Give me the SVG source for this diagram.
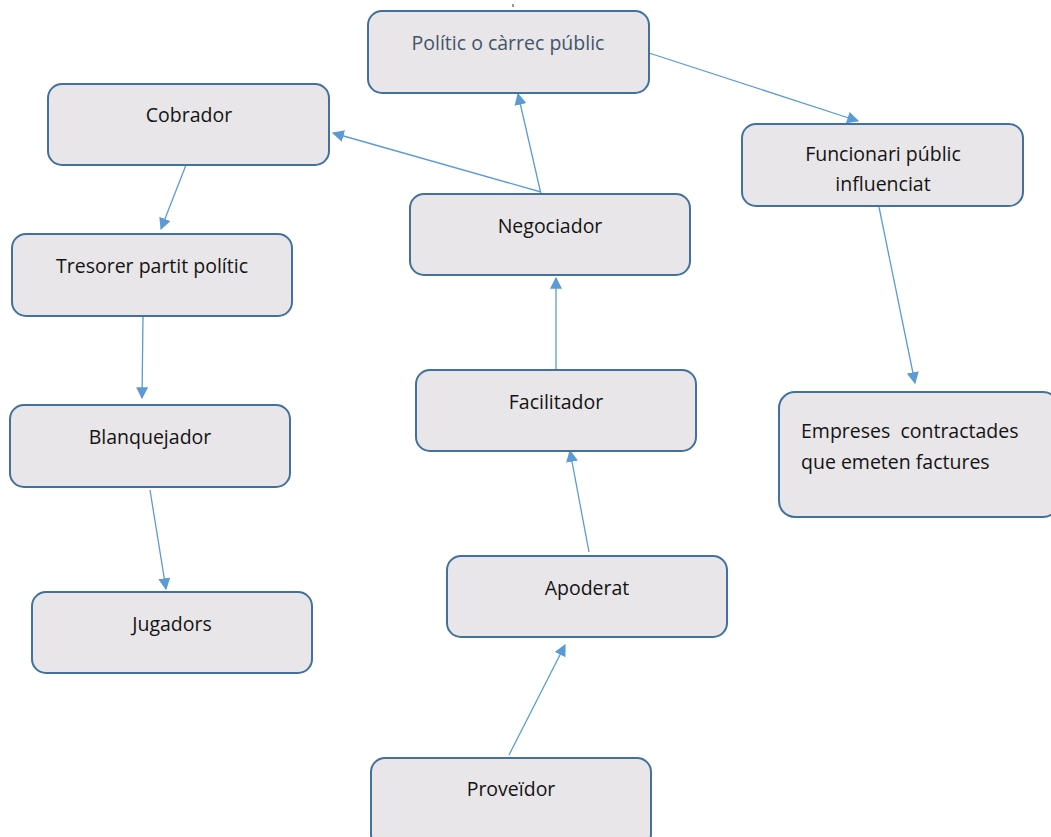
<svg xmlns="http://www.w3.org/2000/svg" width="1051" height="837" viewBox="0 0 1051 837">
<style>
.box{fill:#e8e6e8;stroke:#41719c;stroke-width:2}
.t{font-family:"Open Sans","Liberation Sans",sans-serif;font-size:19.5px;fill:#141414;text-anchor:middle}
.l{text-anchor:start}
.c{fill:none;stroke:#5b9bd5;stroke-width:1.3;marker-end:url(#ah)}
</style>
<defs>
<marker id="ah" viewBox="0 0 10 10" refX="9" refY="5" markerWidth="12" markerHeight="12" markerUnits="userSpaceOnUse" orient="auto">
<path d="M0,0 L10,5 L0,10 z" fill="#5b9bd5"/>
</marker>
</defs>
<rect width="1051" height="837" fill="#ffffff"/>
<line x1="513" y1="4" x2="513" y2="7" stroke="#333" stroke-width="1"/>
<g id="connectors">
<line class="c" x1="649" y1="53" x2="858" y2="121"/>
<line class="c" x1="541" y1="194" x2="518" y2="94"/>
<line class="c" x1="541" y1="192" x2="333" y2="133"/>
<line class="c" x1="186" y1="165" x2="161" y2="229"/>
<line class="c" x1="143" y1="317" x2="142" y2="398"/>
<line class="c" x1="150" y1="490" x2="166" y2="589"/>
<line class="c" x1="556" y1="370" x2="556" y2="278"/>
<line class="c" x1="589" y1="552" x2="570" y2="451"/>
<line class="c" x1="509" y1="755" x2="565" y2="645"/>
<line class="c" x1="879" y1="207" x2="915" y2="383"/>
</g>
<g id="politic">
<rect class="box" x="368" y="11" width="281" height="82" rx="14"/>
<text class="t" x="508" y="50" style="fill:#44546a">Polític o càrrec públic</text>
</g>
<g id="cobrador">
<rect class="box" x="48" y="84" width="281" height="81" rx="14"/>
<text class="t" x="189" y="122">Cobrador</text>
</g>
<g id="funcionari">
<rect class="box" x="742" y="124" width="281" height="82" rx="14"/>
<text class="t" x="883" y="161">Funcionari públic</text>
<text class="t" x="883" y="191">influenciat</text>
</g>
<g id="negociador">
<rect class="box" x="410" y="194" width="280" height="81" rx="14"/>
<text class="t" x="550" y="233">Negociador</text>
</g>
<g id="tresorer">
<rect class="box" x="12" y="234" width="280" height="82" rx="14"/>
<text class="t" x="152" y="273">Tresorer partit polític</text>
</g>
<g id="facilitador">
<rect class="box" x="416" y="370" width="280" height="81" rx="14"/>
<text class="t" x="556" y="409">Facilitador</text>
</g>
<g id="blanquejador">
<rect class="box" x="10" y="405" width="280" height="82" rx="14"/>
<text class="t" x="150" y="444">Blanquejador</text>
</g>
<g id="empreses">
<rect class="box" x="779" y="392" width="280" height="125" rx="16"/>
<text class="t l" x="801" y="438" xml:space="preserve">Empreses  contractades</text>
<text class="t l" x="801" y="469">que emeten factures</text>
</g>
<g id="apoderat">
<rect class="box" x="447" y="556" width="280" height="81" rx="14"/>
<text class="t" x="587" y="595">Apoderat</text>
</g>
<g id="jugadors">
<rect class="box" x="32" y="592" width="280" height="81" rx="14"/>
<text class="t" x="172" y="631">Jugadors</text>
</g>
<g id="proveidor">
<rect class="box" x="371" y="758" width="280" height="90" rx="14"/>
<text class="t" x="511" y="796">Proveïdor</text>
</g>
</svg>
